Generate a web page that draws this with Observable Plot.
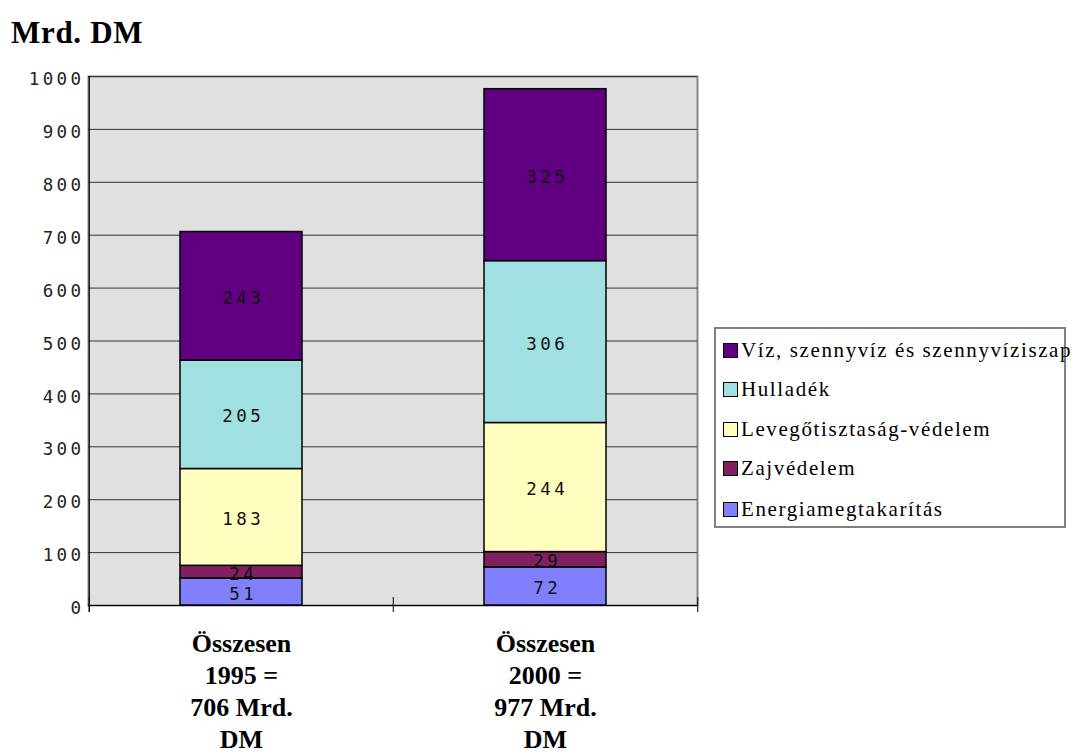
<!DOCTYPE html>
<html>
<head>
<meta charset="utf-8">
<script src="https://cdn.jsdelivr.net/npm/d3@7"></script>
<script src="https://cdn.jsdelivr.net/npm/@observablehq/plot@0.6"></script>
<style>
  html, body { margin: 0; padding: 0; background: #fff; }
  #wrap { position: relative; width: 1074px; height: 755px; overflow: hidden; }
  #chart { position: absolute; left: 0; top: 0; }
  #title { position: absolute; left: 11px; top: 15px; font-family: "Liberation Serif", "Times New Roman", serif; font-weight: bold; font-size: 31px; color: #000; letter-spacing: 0.7px; }
  #legend { position: absolute; left: 714px; top: 327px; width: 352px; height: 201px; border: 2px solid #808080; box-sizing: border-box; font-family: "Liberation Serif", "Times New Roman", serif; font-size: 21px; letter-spacing: 1.6px; color: #000; }
  #legend .row { position: absolute; left: 7px; height: 22px; display: flex; align-items: center; white-space: nowrap; }
  #legend .sw { width: 15px; height: 15px; border: 1.5px solid #000; box-sizing: border-box; margin-right: 3px; }
  g[aria-label="y-axis tick label"] text, g[aria-label="text"] text { letter-spacing: 3.4px; }
</style>
</head>
<body>
<div id="wrap">
  <div id="chart"></div>
  <div id="title">Mrd. DM</div>
  <div id="legend"></div>
</div>
<script>
const categories = ["1995", "2000"];
const xLabels = ["Összesen\n1995 =\n706 Mrd.\nDM", "Összesen\n2000 =\n977 Mrd.\nDM"];
const series = ["Energiamegtakarítás", "Zajvédelem", "Levegőtisztaság-védelem", "Hulladék", "Víz, szennyvíz és szennyvíziszap"];
const values1995 = [51, 24, 183, 205, 243];
const values2000 = [72, 29, 244, 306, 325];
const colors = ["#8080ff", "#802060", "#ffffc0", "#a0e0e0", "#600080"];
const yTicks = [0, 100, 200, 300, 400, 500, 600, 700, 800, 900, 1000];

const data = [];
series.forEach((s, i) => {
  data.push({cat: categories[0], series: s, value: values1995[i]});
  data.push({cat: categories[1], series: s, value: values2000[i]});
});

const half = (1074 - 88 - 377) / categories.length / 2;
const mono = "DejaVu Sans Mono, monospace";

const chart = Plot.plot({
  width: 1074,
  height: 755,
  marginLeft: 88,
  marginRight: 377,
  marginTop: 76,
  marginBottom: 150,
  style: {background: "transparent", overflow: "visible"},
  x: {domain: categories, padding: 0},
  y: {domain: [0, 1000]},
  color: {domain: series, range: colors},
  marks: [
    Plot.frame({fill: "#e0e0e0", stroke: "#888888", strokeWidth: 2}),
    Plot.gridY(yTicks, {stroke: "#333333", strokeOpacity: 1, strokeWidth: 1}),
    Plot.barY(data, Plot.stackY({
      x: "cat", y: "value", fill: "series", z: "series", order: series,
      stroke: "#000", strokeWidth: 1.5, insetLeft: 91, insetRight: 91
    })),
    Plot.text(data, Plot.stackY({
      x: "cat", y: "value", z: "series", text: "value", order: series,
      fontFamily: mono, fontSize: 17.5, fontWeight: 300, fill: "#111",
      dy: 2, dx: 1.7
    })),
    Plot.ruleY([0], {stroke: "#000", strokeWidth: 1}),
    Plot.ruleX([categories[0]], {dx: -half, stroke: "#000", strokeWidth: 1.2, insetBottom: -7}),
    Plot.ruleX(categories, {dx: -half, y1: 0, y2: 0, insetTop: -8, insetBottom: -7, stroke: "#000"}),
    Plot.ruleX([categories[categories.length - 1]], {dx: half, y1: 0, y2: 0, insetTop: -8, insetBottom: -7, stroke: "#000"}),
    Plot.axisY(yTicks, {
      tickSize: 7, tickPadding: 0, dy: 3, dx: 3,
      tickFormat: (d) => String(d),
      fontFamily: mono, fontSize: 17.5, fontWeight: 300, fill: "#222", stroke: null,
      label: null
    }),
    Plot.axisX({
      tickSize: 0, tickPadding: 24,
      tickFormat: (d) => xLabels[categories.indexOf(d)],
      fontFamily: "Liberation Serif, Times New Roman, serif", fontSize: 26, fontWeight: "bold",
      lineHeight: 1.23, fill: "#000", label: null
    })
  ]
});
document.getElementById("chart").appendChild(chart);

const legend = document.getElementById("legend");
const rowsTop = [10, 49, 89, 128, 169];
series.slice().reverse().forEach((s, i) => {
  const row = document.createElement("div");
  row.className = "row";
  row.style.top = rowsTop[i] + "px";
  const sw = document.createElement("div");
  sw.className = "sw";
  sw.style.background = colors[series.indexOf(s)];
  const t = document.createElement("span");
  t.textContent = s;
  row.appendChild(sw);
  row.appendChild(t);
  legend.appendChild(row);
});
</script>
</body>
</html>
